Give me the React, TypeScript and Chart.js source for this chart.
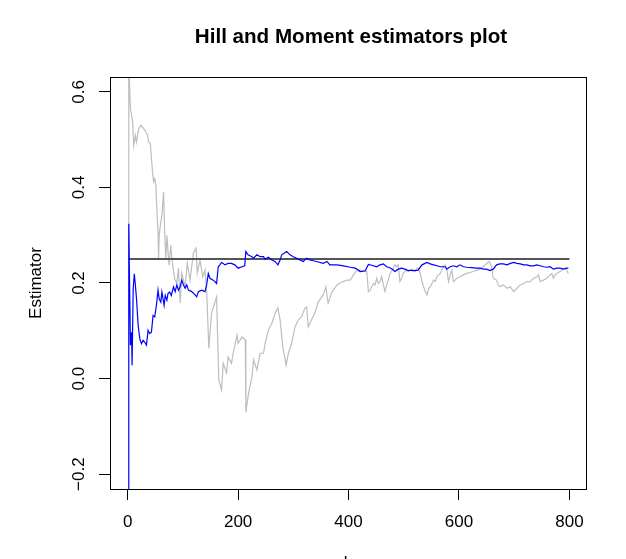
import React, { useEffect, useRef } from "react";
import { Chart, registerables } from "chart.js";

Chart.register(...registerables);

const TITLE = "Hill and Moment estimators plot";
const X_LABEL = "k";
const Y_LABEL = "Estimator";
const X_TICKS = [0, 200, 400, 600, 800];
const Y_TICKS = [-0.2, 0, 0.2, 0.4, 0.6];
const REF_K = [1, 800];
const REF_V = [0.25, 0.25];

// Moment estimator (gray)
const momentK = [1, 2, 5, 7, 9, 11, 14, 16, 20, 24, 31, 36, 38, 41, 45, 47, 49, 51, 53, 55, 56, 57, 60, 62, 65, 67, 69, 71, 73, 75, 78, 80, 85, 89, 92, 95, 98, 104, 108, 113, 119, 124, 126, 131, 136, 140, 143, 147, 152, 161, 165, 170, 173, 179, 182, 188, 191, 198, 200, 207, 213, 214, 219, 225, 228, 234, 240, 246, 249, 255, 261, 267, 272, 276, 281, 287, 291, 297, 303, 309, 315, 321, 324, 327, 333, 339, 345, 354, 359, 363, 370, 379, 388, 397, 403, 409, 415, 418, 421, 424, 427, 433, 436, 439, 442, 445, 448, 451, 454, 457, 460, 463, 466, 469, 472, 475, 478, 481, 484, 487, 490, 493, 496, 499, 502, 505, 508, 511, 520, 524, 526, 530, 533, 536, 539, 542, 545, 548, 551, 554, 557, 560, 563, 566, 569, 572, 575, 578, 581, 584, 587, 590, 593, 596, 602, 608, 614, 620, 626, 632, 638, 644, 650, 655, 659, 662, 668, 671, 674, 680, 687, 693, 699, 705, 711, 717, 723, 729, 735, 741, 744, 747, 753, 759, 765, 768, 771, 774, 777, 783, 789, 792, 795, 798];
const momentV = [0.25, 0.66, 0.565, 0.551, 0.537, 0.488, 0.509, 0.495, 0.523, 0.53, 0.52, 0.509, 0.495, 0.492, 0.432, 0.412, 0.418, 0.405, 0.349, 0.307, 0.251, 0.3, 0.328, 0.342, 0.391, 0.307, 0.251, 0.3, 0.265, 0.237, 0.279, 0.251, 0.209, 0.2, 0.231, 0.158, 0.221, 0.192, 0.242, 0.206, 0.263, 0.273, 0.221, 0.248, 0.213, 0.227, 0.185, 0.063, 0.137, 0.171, -0.003, -0.024, 0.032, 0.012, 0.045, 0.032, 0.053, 0.091, 0.074, 0.087, 0.081, -0.07, -0.03, 0.003, 0.039, 0.018, 0.053, 0.053, 0.074, 0.102, 0.116, 0.137, 0.148, 0.123, 0.066, 0.028, 0.053, 0.074, 0.108, 0.123, 0.129, 0.148, 0.15, 0.108, 0.123, 0.137, 0.16, 0.175, 0.192, 0.158, 0.181, 0.196, 0.202, 0.206, 0.206, 0.217, 0.227, 0.224, 0.227, 0.224, 0.227, 0.224, 0.182, 0.185, 0.192, 0.199, 0.196, 0.21, 0.199, 0.203, 0.213, 0.196, 0.182, 0.196, 0.206, 0.22, 0.224, 0.231, 0.238, 0.234, 0.238, 0.203, 0.21, 0.22, 0.224, 0.227, 0.224, 0.227, 0.224, 0.231, 0.231, 0.22, 0.203, 0.192, 0.182, 0.175, 0.189, 0.192, 0.199, 0.206, 0.203, 0.213, 0.217, 0.22, 0.227, 0.234, 0.238, 0.227, 0.203, 0.217, 0.227, 0.203, 0.206, 0.21, 0.213, 0.217, 0.22, 0.222, 0.224, 0.227, 0.229, 0.234, 0.241, 0.245, 0.234, 0.21, 0.206, 0.196, 0.192, 0.196, 0.189, 0.192, 0.182, 0.189, 0.196, 0.199, 0.203, 0.203, 0.21, 0.213, 0.217, 0.203, 0.206, 0.21, 0.217, 0.22, 0.21, 0.217, 0.22, 0.224, 0.229, 0.231, 0.227, 0.22];

// Hill estimator (blue)
const hillK = [1, 2, 4, 5, 7, 8, 10, 12, 14, 16, 19, 22, 25, 28, 31, 34, 37, 40, 43, 46, 49, 52, 55, 57, 60, 62, 66, 68, 71, 73, 76, 79, 83, 86, 89, 92, 95, 98, 101, 104, 107, 110, 116, 122, 125, 128, 134, 140, 143, 146, 149, 155, 158, 161, 164, 167, 170, 173, 176, 182, 188, 194, 200, 207, 212, 214, 218, 225, 228, 234, 240, 246, 249, 255, 261, 267, 272, 276, 279, 283, 288, 294, 300, 309, 318, 324, 330, 342, 354, 361, 366, 379, 391, 403, 412, 418, 421, 430, 436, 445, 451, 457, 463, 469, 475, 481, 484, 490, 496, 502, 508, 515, 520, 526, 533, 542, 548, 554, 560, 566, 575, 578, 584, 590, 596, 602, 608, 614, 623, 632, 638, 644, 650, 656, 662, 668, 674, 680, 687, 693, 699, 705, 711, 717, 723, 729, 735, 741, 747, 753, 759, 765, 771, 777, 783, 789, 795, 798];
const hillV = [-0.26, 0.324, 0.153, 0.07, 0.097, 0.028, 0.188, 0.219, 0.195, 0.167, 0.111, 0.083, 0.073, 0.08, 0.076, 0.07, 0.101, 0.094, 0.097, 0.132, 0.129, 0.153, 0.185, 0.167, 0.16, 0.181, 0.153, 0.174, 0.164, 0.178, 0.181, 0.174, 0.192, 0.182, 0.196, 0.185, 0.192, 0.206, 0.196, 0.189, 0.196, 0.185, 0.182, 0.175, 0.171, 0.182, 0.185, 0.182, 0.196, 0.22, 0.21, 0.206, 0.203, 0.199, 0.234, 0.238, 0.243, 0.241, 0.238, 0.241, 0.241, 0.238, 0.231, 0.234, 0.236, 0.266, 0.259, 0.255, 0.252, 0.259, 0.255, 0.255, 0.25, 0.254, 0.248, 0.245, 0.238, 0.248, 0.259, 0.262, 0.266, 0.259, 0.255, 0.25, 0.245, 0.252, 0.248, 0.245, 0.241, 0.245, 0.238, 0.238, 0.236, 0.233, 0.231, 0.227, 0.224, 0.225, 0.239, 0.236, 0.234, 0.238, 0.24, 0.234, 0.232, 0.227, 0.224, 0.229, 0.231, 0.229, 0.226, 0.227, 0.226, 0.227, 0.238, 0.243, 0.24, 0.238, 0.236, 0.234, 0.234, 0.229, 0.234, 0.236, 0.234, 0.238, 0.234, 0.233, 0.232, 0.231, 0.231, 0.229, 0.229, 0.226, 0.229, 0.238, 0.24, 0.24, 0.238, 0.241, 0.243, 0.241, 0.24, 0.238, 0.238, 0.236, 0.236, 0.238, 0.236, 0.234, 0.233, 0.234, 0.229, 0.231, 0.231, 0.229, 0.231, 0.231];

const FONT = '"Liberation Sans", Arial, Helvetica, sans-serif';

const toPoints = (ks: number[], vs: number[]) => ks.map((k, i) => ({ x: k, y: vs[i] }));

// R-style box around the plot region and title centred over the plot region
const boxPlugin = {
  id: "rbox",
  afterDraw(chart: any) {
    const { ctx, chartArea } = chart;
    const l = Math.round(chartArea.left);
    const t = Math.round(chartArea.top);
    const r = Math.round(chartArea.right);
    const b = Math.round(chartArea.bottom);
    ctx.save();
    ctx.strokeStyle = "#000";
    ctx.lineWidth = 1;
    ctx.strokeRect(l + 0.5, t + 0.5, r - l, b - t);
    ctx.fillStyle = "#000";
    ctx.font = `bold 20.6px ${FONT}`;
    ctx.textAlign = "center";
    ctx.textBaseline = "middle";
    ctx.fillText(TITLE, (chartArea.left + chartArea.right) / 2 + 3, chartArea.top - 39.6);
    ctx.restore();
  },
};

export default function App() {
  const ref = useRef<HTMLCanvasElement | null>(null);

  useEffect(() => {
    if (!ref.current) return;
    const chart = new Chart(ref.current, {
      type: "line",
      data: {
        datasets: [
          {
            label: "Hill",
            data: toPoints(hillK, hillV),
            borderColor: "#0000FF",
            borderWidth: 1.2,
            pointRadius: 0,
            tension: 0,
            fill: false,
          },
          {
            label: "Reference",
            data: toPoints(REF_K, REF_V),
            borderColor: "#555555",
            borderWidth: 2,
            pointRadius: 0,
            tension: 0,
            fill: false,
          },
          {
            label: "Moment",
            data: toPoints(momentK, momentV),
            borderColor: "#BEBEBE",
            borderWidth: 1.2,
            pointRadius: 0,
            tension: 0,
            fill: false,
          },
        ],
      },
      options: {
        responsive: false,
        animation: false,
        devicePixelRatio: 1,
        layout: { padding: { left: 0, right: 40, top: 77, bottom: 0 } },
        plugins: {
          legend: { display: false },
          tooltip: { enabled: false },
          title: { display: false },
        },
        scales: {
          x: {
            type: "linear",
            min: -32,
            max: 830,
            afterBuildTicks: (s: any) => {
              s.ticks = X_TICKS.map((v) => ({ value: v }));
            },
            afterFit: (s: any) => {
              s.height = 91;
            },
            border: { display: false },
            grid: {
              drawOnChartArea: false,
              drawTicks: true,
              tickLength: 11,
              color: "#000",
              lineWidth: 1,
            },
            ticks: {
              color: "#000",
              font: { family: FONT, size: 17, lineHeight: 1.2 },
              padding: 12,
              maxRotation: 0,
              minRotation: 0,
              autoSkip: false,
              callback: (v: any) => String(v),
            },
            title: {
              display: true,
              text: X_LABEL,
              color: "#000",
              font: { family: FONT, size: 17, lineHeight: 1.2 },
              padding: { top: 0, bottom: 6 },
            },
          },
          y: {
            type: "linear",
            min: -0.231,
            max: 0.631,
            afterBuildTicks: (s: any) => {
              s.ticks = Y_TICKS.map((v) => ({ value: v }));
            },
            afterFit: (s: any) => {
              s.width = 110;
            },
            border: { display: false },
            grid: {
              drawOnChartArea: false,
              drawTicks: true,
              tickLength: 11,
              color: "#000",
              lineWidth: 1,
            },
            ticks: {
              color: "#000",
              font: { family: FONT, size: 17, lineHeight: 1.2 },
              padding: 3,
              minRotation: 90,
              maxRotation: 90,
              crossAlign: "center",
              autoSkip: false,
              callback: (v: any) => {
                const n = Number(v);
                return n < 0 ? "\u2212" + Math.abs(n).toFixed(1) : n.toFixed(1);
              },
            },
            title: {
              display: true,
              text: Y_LABEL,
              color: "#000",
              font: { family: FONT, size: 17, lineHeight: 1.2 },
              padding: { top: 26, bottom: 0 },
            },
          },
        },
      } as any,
      plugins: [boxPlugin],
    });
    return () => chart.destroy();
  }, []);

  return (
    <div
      style={{
        position: "fixed",
        left: 0,
        top: 0,
        width: 626,
        height: 559,
        overflow: "hidden",
        background: "#fff",
      }}
    >
      <canvas ref={ref} width={626} height={580} style={{ display: "block" }} />
    </div>
  );
}
